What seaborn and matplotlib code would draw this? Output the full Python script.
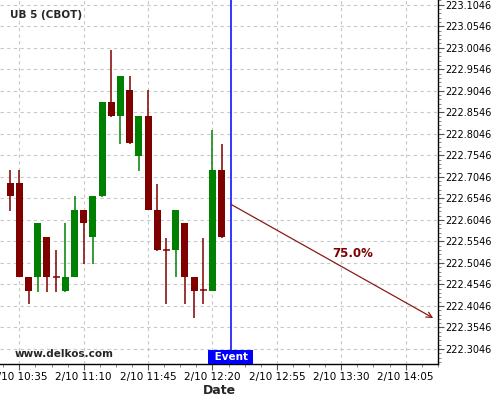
import numpy as np
import pandas as pd
import matplotlib
matplotlib.use("Agg")
import matplotlib.pyplot as plt
import matplotlib.dates as mdates
from matplotlib.ticker import FixedLocator, AutoMinorLocator, FuncFormatter
import seaborn as sns

# 5-minute candles, UB 5 (CBOT)
times = pd.date_range("2015-02-10 10:30", periods=24, freq="5min")
opens = [222.6895, 222.6895, 222.4716, 222.4716, 222.5643, 222.4716, 222.4398, 222.4716,
         222.6269, 222.5643, 222.6594, 222.8774, 222.8449, 222.9075, 222.7528, 222.8449,
         222.6269, 222.5349, 222.5349, 222.5968, 222.4716, 222.4406, 222.4398, 222.7197]
highs = [222.7197, 222.7197, 222.4716, 222.5968, 222.5643, 222.5342, 222.5968, 222.6594,
         222.6269, 222.6594, 222.8774, 222.9996, 222.9400, 222.9400, 222.8449, 222.9068,
         222.6888, 222.5636, 222.6269, 222.5968, 222.4716, 222.5636, 222.8141, 222.7816]
lows = [222.6262, 222.4716, 222.4083, 222.4375, 222.4375, 222.4375, 222.4375, 222.4710,
        222.5017, 222.5010, 222.6570, 222.8430, 222.7816, 222.7810, 222.7190, 222.6269,
        222.5330, 222.4083, 222.4709, 222.4083, 222.3758, 222.4083, 222.4398, 222.5630]
closes = [222.6601, 222.4716, 222.4398, 222.5968, 222.4716, 222.4716, 222.4716, 222.6269,
          222.5968, 222.6594, 222.8774, 222.8449, 222.9400, 222.7823, 222.8449, 222.6269,
          222.5349, 222.5349, 222.6269, 222.4716, 222.4398, 222.4406, 222.7197, 222.5643]

event_time = pd.Timestamp("2015-02-10 12:30")
forecast_start = (pd.Timestamp("2015-02-10 12:30"), 222.6408)
forecast_end = (pd.Timestamp("2015-02-10 14:20"), 222.3765)
forecast_label = "75.0%"

xtick_times = pd.date_range("2015-02-10 10:35", periods=7, freq="35min")
ytick_values = [222.3046, 222.3546, 222.4046, 222.4546, 222.5046, 222.5546, 222.6046,
                222.6546, 222.7046, 222.7546, 222.8046, 222.8546, 222.9046, 222.9546,
                223.0046, 223.0546, 223.1046]

sns.set_style("whitegrid")

fig = plt.figure(figsize=(5, 4), dpi=100)
ax = fig.add_axes([0.0, 0.09, 0.876, 0.91])

x = mdates.date2num(times)
colors = ["#008000" if c > o else "#800000" for o, c in zip(opens, closes)]
width = 3.8 / 1440

ax.vlines(x, lows, highs, colors=colors, lw=1.1, zorder=2)
bottoms = np.minimum(opens, closes)
heights = np.abs(np.array(closes) - np.array(opens))
ax.bar(x, heights, width, bottom=bottoms, color=colors, linewidth=0, zorder=3)
# dojis -> flat line
for xi, o, c, col in zip(x, opens, closes, colors):
    if o == c:
        ax.hlines(o, xi - width / 2, xi + width / 2, color=col, lw=1.1, zorder=3)

ex = mdates.date2num(event_time)
ax.axvline(ex, color="#0000ff", lw=1.1, zorder=4)

ax.annotate("", xy=(mdates.date2num(forecast_end[0]), forecast_end[1]),
            xytext=(mdates.date2num(forecast_start[0]), forecast_start[1]),
            arrowprops=dict(arrowstyle="->", color="#8b1a1a", lw=0.9,
                            shrinkA=0, shrinkB=0, mutation_scale=10), zorder=4)
ax.text(mdates.date2num(pd.Timestamp("2015-02-10 13:36")), 222.527, forecast_label,
        color="#800000", fontweight="bold", fontsize=8.5, ha="center", va="center")

ax.set_xlim(mdates.date2num(pd.Timestamp("2015-02-10 10:24:30")),
            mdates.date2num(pd.Timestamp("2015-02-10 14:22:36")))
ax.set_ylim(222.2697, 223.1155)

ax.xaxis.set_major_locator(FixedLocator(mdates.date2num(xtick_times)))
ax.xaxis.set_major_formatter(FuncFormatter(
    lambda v, pos: "{d.month}/{d.day} {d:%H:%M}".format(d=mdates.num2date(v))))
ax.xaxis.set_minor_locator(AutoMinorLocator(4))
ax.yaxis.set_major_locator(FixedLocator(ytick_values))
ax.yaxis.set_major_formatter(FuncFormatter(lambda v, pos: f"{v:.4f}"))
ax.yaxis.set_minor_locator(AutoMinorLocator(5))
ax.yaxis.tick_right()

for side in ["left", "top"]:
    ax.spines[side].set_visible(False)
for side in ["right", "bottom"]:
    ax.spines[side].set_color("black")
    ax.spines[side].set_linewidth(1)

ax.grid(True, which="major", ls=(0, (3, 3)), color="#c8c8c8", lw=0.8)
ax.grid(False, which="minor")
ax.tick_params(axis="both", which="major", direction="out", length=4, width=0.8,
               color="#555555", labelcolor="black")
ax.tick_params(axis="both", which="minor", direction="out", length=2, width=0.6,
               color="#777777")
ax.tick_params(axis="x", labelsize=7.5, pad=2, bottom=True)
ax.tick_params(axis="y", labelsize=7, pad=1, right=True, which="both")
ax.tick_params(axis="x", which="minor", bottom=True)

ax.set_xlabel("Date", fontsize=9, fontweight="bold", labelpad=1)

ax.text(0.023, 0.959, "UB 5 (CBOT)", transform=ax.transAxes, fontsize=7.5,
        fontweight="bold", va="center", ha="left")
ax.text(0.034, 0.027, "www.delkos.com", transform=ax.transAxes, fontsize=7.5,
        fontweight="bold", va="center", ha="left")

trans = ax.get_xaxis_transform()
ax.text(ex, 0.006, " Event ", transform=trans, color="white", fontsize=7.5,
        fontweight="bold", ha="center", va="bottom", zorder=5,
        bbox=dict(boxstyle="square,pad=0.2", facecolor="#0000ff", edgecolor="none"))

fig.savefig("out.png", dpi=100)
